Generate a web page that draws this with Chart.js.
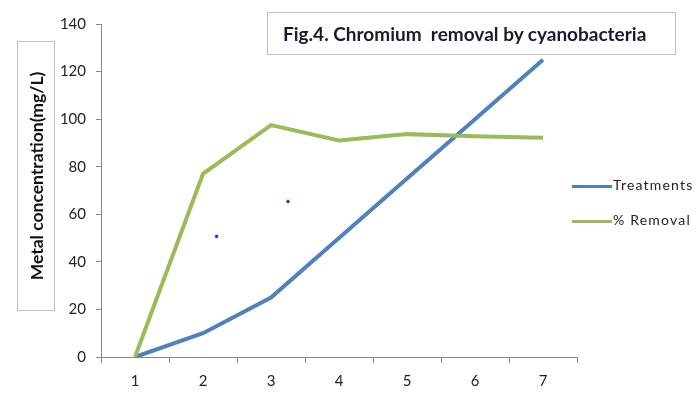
<!DOCTYPE html>
<html>
<head>
<meta charset="utf-8">
<script src="https://cdn.jsdelivr.net/npm/chart.js@4"></script>
<style>
  body { margin: 0; background: #fff; }
  #wrap { position: relative; width: 700px; height: 395px; font-family: Lato, "Open Sans", sans-serif; }
  #chart { position: absolute; left: 0; top: 0; }
  .title-box {
    position: absolute; left: 267px; top: 12px; width: 407px; height: 41px;
    border: 1px solid #c0c0c0; box-sizing: content-box;
    font-weight: bold; font-size: 19px; color: #1a1a2e;
    line-height: 41px; text-indent: 15px; white-space: pre;
  }
  .ylabel-box {
    position: absolute; left: 17px; top: 41px; width: 36px; height: 268px;
    border: 1px solid #c0c0c0;
  }
  .ylabel-box span {
    position: absolute; left: 50%; top: 50%; white-space: nowrap;
    transform: translate(-50%, -50%) rotate(-90deg);
    font-weight: bold; font-size: 17.5px; color: #111;
  }
  .legend { position: absolute; left: 572px; font-size: 14px; color: #222; letter-spacing: 1.2px; }
  .legend i { display: inline-block; width: 40px; height: 3px; vertical-align: middle; margin-right: 1px; }
</style>
</head>
<body>
<div id="wrap">
  <canvas id="chart" width="700" height="395"></canvas>
  <div class="title-box">Fig.4. Chromium  removal by cyanobacteria</div>
  <div class="ylabel-box"><span>Metal concentration(mg/L)</span></div>
  <div class="legend" id="legend"></div>
</div>
<script>
// Données du graphique
const categories = ['1', '2', '3', '4', '5', '6', '7'];
const treatments = [0, 10, 25, 50, 75, 100, 125];
const removal = [0, 77, 97.5, 91, 93.7, 92.8, 92.2];
// petits points bleus isolés (index de catégorie, valeur)
const strayX = [1.2, 2.25];
const strayY = [50.7, 65.4];
const seriesNames = ['Treatments', '% Removal'];
const seriesColors = ['#4F81BD', '#9BBB59'];

document.addEventListener('DOMContentLoaded', function() {
    initChart();
    buildLegend();
});

function initChart() {
    const ctx = document.getElementById('chart');
    new Chart(ctx, {
        type: 'line',
        data: {
            labels: categories,
            datasets: [
                {
                    label: seriesNames[0],
                    data: treatments,
                    borderColor: seriesColors[0],
                    borderWidth: 4,
                    pointRadius: 0,
                    tension: 0,
                    order: 2
                },
                {
                    label: seriesNames[1],
                    data: removal,
                    borderColor: seriesColors[1],
                    borderWidth: 4,
                    pointRadius: 0,
                    tension: 0,
                    order: 1
                },
                {
                    type: 'scatter',
                    label: 'stray',
                    data: strayX.map((x, i) => ({ x: x, y: strayY[i] })),
                    xAxisID: 'x2',
                    backgroundColor: '#2222ff',
                    borderColor: '#2222ff',
                    pointRadius: 1.3,
                    order: 0
                }
            ]
        },
        options: {
            responsive: false,
            animation: false,
            layout: { padding: { left: 0, right: 123, top: 24, bottom: 0 } },
            plugins: {
                legend: { display: false },
                tooltip: { enabled: false }
            },
            scales: {
                x: {
                    type: 'category',
                    offset: true,
                    grid: { offset: true, drawOnChartArea: false, tickLength: 6, color: '#888' },
                    border: { color: '#888' },
                    ticks: { color: '#222', font: { family: 'Lato', size: 15 }, padding: 9, maxRotation: 0 },
                    afterFit: function(scale) { scale.height = 38; }
                },
                x2: {
                    type: 'linear',
                    display: false,
                    min: -0.5,
                    max: 6.5
                },
                y: {
                    min: 0,
                    max: 140,
                    ticks: { stepSize: 20, color: '#222', font: { family: 'Lato', size: 15 }, padding: 10 },
                    grid: { drawOnChartArea: false, tickLength: 5, color: '#888' },
                    border: { color: '#888' },
                    afterFit: function(scale) { scale.width = 101; }
                }
            }
        }
    });
}

function buildLegend() {
    const legend = document.getElementById('legend');
    legend.style.top = '175px';
    legend.innerHTML = seriesNames.map((name, i) =>
        `<div style="height:35px;line-height:20px"><i style="background:${seriesColors[i]}"></i>${name}</div>`
    ).join('');
}
</script>
</body>
</html>
